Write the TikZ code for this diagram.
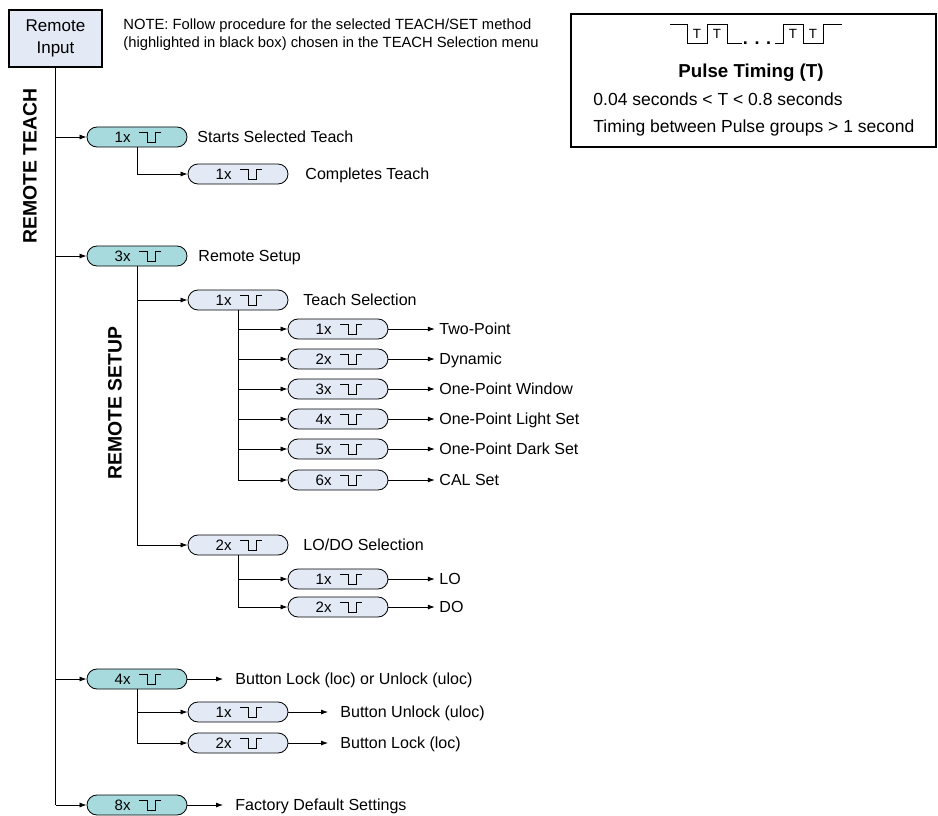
\documentclass[tikz,border=0pt]{standalone}
\usepackage{fontspec}
\setmainfont{Liberation Sans}
\usetikzlibrary{arrows.meta}

\definecolor{pillteal}{HTML}{A7DADD}
\definecolor{pillpale}{HTML}{E3E9F5}

\newcommand{\pcount}[1]{#1x\hspace{0.72cm}\mbox{}}

\tikzset{
  arr/.style={-{Latex[length=5pt,width=3.6pt]}},
  pill/.style={draw, line width=0.6pt, rounded corners=0.25cm, minimum width=2.5cm,
    minimum height=0.5cm, inner sep=0pt, font=\fontsize{10.7}{12}\selectfont,
    path picture={\draw[sharp corners, line width=0.6pt] ([xshift=0.05cm,yshift=0.12cm]path picture bounding box.center)
      -- ++(0.2cm,0) -- ++(0,-0.25cm) -- ++(0.2cm,0) -- ++(0,0.25cm) -- ++(0.15cm,0);}},
  tealpill/.style={pill, fill=pillteal},
  palepill/.style={pill, fill=pillpale},
  lbl/.style={anchor=west, inner sep=0pt, text height=8pt, text depth=0pt},
  side/.style={rotate=90, inner sep=0pt, font=\fontsize{13.8}{16}\selectfont\bfseries},
}

\begin{document}
\begin{tikzpicture}[x=0.025cm, y=-0.025cm, line width=0.6pt, font=\fontsize{11.4}{13.7}\selectfont]

        \useasboundingbox (0,0) rectangle (938,815);

        % Input box and note
        \node[draw, fill=pillpale, line width=0.8pt, minimum width=2.325cm, minimum height=1.425cm,
              align=center, inner sep=0pt, font=\fontsize{12.1}{15.6}\selectfont] (input) at (55.5,38.5) {Remote\\Input};
        \node[anchor=west, align=left, inner sep=0pt, font=\fontsize{10.5}{12.8}\selectfont] (note) at (123,35)
              {NOTE: Follow procedure for the selected TEACH/SET method\\(highlighted in black box) chosen in the TEACH Selection menu};

        % Pulse timing box
        \draw[line width=1.1pt] (571,14) rectangle (936,147);
        \draw (670,24) -- (687,24) -- (687,43) -- (707,43) -- (707,24) -- (727,24) -- (727,43) -- (742,43);
        \draw (775,43) -- (783,43) -- (783,24) -- (803,24) -- (803,43) -- (823,43) -- (823,24) -- (842,24);
        \foreach \x in {697,717,793,813}
            \node[font=\fontsize{9.5}{10}\selectfont, inner sep=0pt] at (\x,34) {T};
        \node[anchor=base, inner sep=0pt, font=\fontsize{12.8}{14}\selectfont\bfseries] (dots) at (757,44) {. . .};
        \node[font=\fontsize{13.3}{15}\selectfont\bfseries, inner sep=0pt] (ptitle) at (751,73) {Pulse Timing (T)};
        \node[lbl, font=\fontsize{12.45}{15}\selectfont] (tline1) at (593,100) {0.04 seconds < T < 0.8 seconds};
        \node[lbl, font=\fontsize{12.45}{15}\selectfont] (tline2) at (593,127) {Timing between Pulse groups > 1 second};

        % Side titles
        \node[side] (rteach) at (30,166) {REMOTE TEACH};
        \node[side] (rsetup) at (115,403) {REMOTE SETUP};

        % Main pills on the trunk
        \node[tealpill] (t1) at (137,137) {\pcount{1}};
        \node[tealpill] (t3) at (137,256) {\pcount{3}};
        \node[tealpill] (t4) at (137,679) {\pcount{4}};
        \node[tealpill] (t8) at (137,805) {\pcount{8}};
        \draw (input.south) -- (input.south |- t8.west);
        \foreach \n in {t1,t3,t4,t8}
            \draw[arr] (input.south |- \n.west) -- (\n.west);

        % Teach
        \node[lbl] (l1) at (197,137) {Starts Selected Teach};
        \node[palepill] (c1) at (238,174) {\pcount{1}};
        \node[lbl] (lc1) at (305,174) {Completes Teach};
        \draw[arr] (t1.south) |- (c1.west);

        % Remote setup
        \node[lbl] (l3) at (198,256) {Remote Setup};
        \node[palepill] (s1) at (238,300) {\pcount{1}};
        \node[lbl] (ls1) at (303,300) {Teach Selection};
        \node[palepill] (s2) at (238,545) {\pcount{2}};
        \node[lbl] (ls2) at (303,545) {LO/DO Selection};
        \draw[arr] (t3.south) |- (s1.west);
        \draw[arr] (t3.south) |- (s2.west);

        % Teach selection choices
        \foreach \k/\y/\txt in {1/329/Two-Point, 2/359/Dynamic, 3/389/One-Point Window,
                                4/419/One-Point Light Set, 5/449/One-Point Dark Set, 6/480/CAL Set} {
            \node[palepill] (m\k) at (338,\y) {\pcount{\k}};
            \node[lbl] (lm\k) at (439,\y) {\txt};
            \draw[arr] (s1.south) |- (m\k.west);
            \draw[arr, shorten >=3pt] (m\k.east) -- (lm\k.west);
        }

        % LO/DO choices
        \foreach \k/\y/\txt in {1/579/LO, 2/607/DO} {
            \node[palepill] (d\k) at (338,\y) {\pcount{\k}};
            \node[lbl] (ld\k) at (439,\y) {\txt};
            \draw[arr] (s2.south) |- (d\k.west);
            \draw[arr, shorten >=3pt] (d\k.east) -- (ld\k.west);
        }

        % Button lock
        \node[lbl] (l4) at (235,679) {Button Lock (loc) or Unlock (uloc)};
        \draw[arr, shorten >=8.5pt] (t4.east) -- (l4.west);
        \foreach \k/\y/\txt in {1/712/Button Unlock (uloc), 2/743/Button Lock (loc)} {
            \node[palepill] (b\k) at (238,\y) {\pcount{\k}};
            \node[lbl] (lb\k) at (340,\y) {\txt};
            \draw[arr] (t4.south) |- (b\k.west);
            \draw[arr, shorten >=8.5pt] (b\k.east) -- (lb\k.west);
        }

        % Factory default
        \node[lbl] (l8) at (235,805) {Factory Default Settings};
        \draw[arr, shorten >=8.5pt] (t8.east) -- (l8.west);
\end{tikzpicture}
\end{document}
